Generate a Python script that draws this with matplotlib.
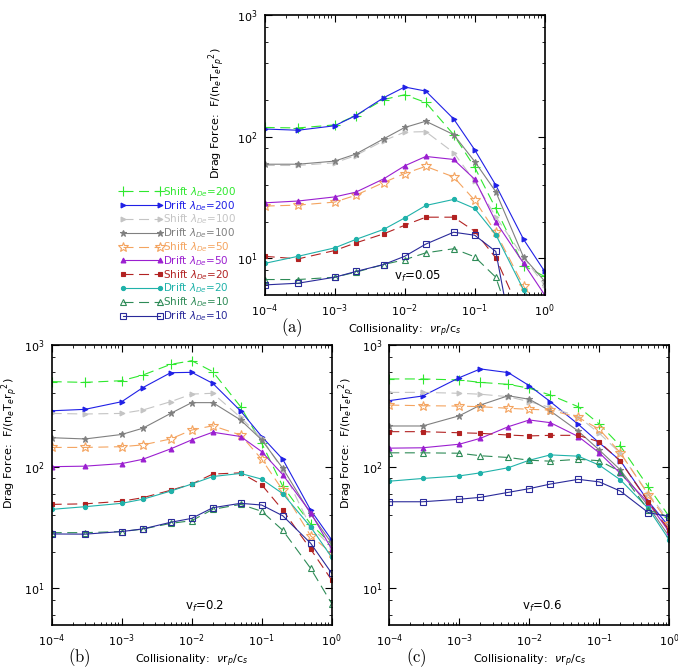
import matplotlib
matplotlib.use('Agg')
import matplotlib.pyplot as plt
from matplotlib.ticker import LogLocator, NullFormatter

# Collisionality values (x) shared by every curve
collisionality = [1e-4, 3e-4, 1e-3, 2e-3, 5e-3, 1e-2, 2e-2, 5e-2, 1e-1, 2e-1, 5e-1, 1.0]

series_labels = [r'Shift $\lambda_{De}$=200', r'Drift $\lambda_{De}$=200',
                 r'Shift $\lambda_{De}$=100', r'Drift $\lambda_{De}$=100',
                 r'Shift $\lambda_{De}$=50', r'Drift $\lambda_{De}$=50',
                 r'Shift $\lambda_{De}$=20', r'Drift $\lambda_{De}$=20',
                 r'Shift $\lambda_{De}$=10', r'Drift $\lambda_{De}$=10']

# Drag force, v_f = 0.05 (panel a)
drag_a = [
    [119, 118, 125, 149, 202, 221, 191, 104, 56, 25.7, 8.7, 7.1],
    [115.6, 113, 123, 149, 209, 256, 237, 140, 78, 40, 14.3, 7.8],
    [58, 58, 61, 70, 92.7, 109, 110, 74, 43, 22, 10.2, 6.0],
    [59.4, 59.4, 63, 72, 96, 119, 134, 104, 62.5, 35.3, 10.2, 6.5],
    [26.9, 27.4, 29, 33, 42, 49.8, 57, 46.7, 30, 16.4, 5.9, 3.5],
    [28.6, 29.6, 32, 35, 45, 57.6, 68.8, 65, 44.7, 20, 9.1, 5.0],
    [10.4, 9.9, 11.6, 13.4, 15.9, 18.7, 21.8, 21.8, 16.7, 10.1, 3.1, 2.0],
    [9.1, 10.4, 12.2, 14.3, 17.3, 21.5, 27.2, 30.5, 25.7, 15.7, 5.5, 3.0],
    [6.7, 6.7, 7.0, 7.7, 8.9, 9.75, 11.1, 12.0, 10.3, 7.0, 1.5, 1.0],
    [6.05, 6.25, 7.0, 7.8, 8.9, 10.4, 13.1, 16.4, 15.5, 11.4, 0.7, 0.5],
]

# Drag force, v_f = 0.2 (panel b)
drag_b = [
    [500, 493, 509, 566, 693, 743, 604, 311, 156, 69, 33.8, 23],
    [288, 296, 342, 446, 592, 596, 484, 287, 177, 115, 44, 25],
    [274, 271, 274, 292, 342, 395, 401, 254, 171, 94, 32, 22],
    [173, 169, 184, 207, 274, 336, 336, 242, 166, 97, 41, 23.5],
    [144, 144, 146, 151, 169, 200, 217, 182, 115, 64, 27, 19.5],
    [100, 101, 106, 115, 140, 166, 192, 177, 133, 86, 42, 21],
    [49, 49.5, 52, 55.6, 64, 72, 87, 89, 71, 44, 21, 11.7],
    [44.6, 46.9, 50, 54, 63, 72, 83, 88, 79, 60, 32, 18],
    [28.7, 28.7, 29.3, 30.7, 34.2, 36, 44.6, 49, 43, 30, 14.6, 7.5],
    [28, 27.9, 29.3, 30.8, 34.9, 37.6, 46, 50, 48.4, 39.5, 23.5, 13.3],
]

# Drag force, v_f = 0.6 (panel c)
drag_c = [
    [526, 526, 516, 493, 475, 441, 388, 311, 224, 148, 68.5, 38.8],
    [349, 381, 539, 636, 593, 463, 342, 223, 157, 112, 52, 32],
    [408, 408, 401, 394, 376, 342, 307, 258, 188, 129, 60, 36],
    [216, 216, 262, 321, 383, 358, 287, 196, 137, 94, 47.5, 26.6],
    [321, 317, 315, 311, 302, 296, 292, 254, 203, 130, 59, 34],
    [142, 143, 153, 171, 213, 242, 230, 177, 130, 88, 50.6, 29],
    [194, 194, 190, 188, 182, 179, 181, 181, 160, 111, 51.5, 30],
    [76, 80, 84, 89, 98, 113, 125, 122, 103, 78, 45.5, 25],
    [130, 130, 129, 123, 119, 113, 111, 115, 112, 91, 44, 38.8],
    [51.5, 51.5, 54, 56, 61.5, 66, 72, 78.7, 75, 63, 42, 38.8],
]

# Styles
colors = ['#2ee82e', '#2020e6', '#c4c4c4', '#808080', '#f4a460',
          '#9b1fd0', '#b22222', '#20b2aa', '#2e8b57', '#2a2a9a']
markers = ['+', '>', '>', '*', '*', '^', 's', 'o', '^', 's']
marker_sizes = [7, 3.5, 3.5, 5, 7, 3.5, 3.2, 3, 4.5, 4.5]
open_marker = [False, False, False, False, True, False, False, False, True, True]
dashed = [True, False, True, False, True, False, True, False, True, False]

plt.rcParams['font.family'] = 'DejaVu Sans'
plt.rcParams['mathtext.fontset'] = 'dejavusans'


def style_axes(ax, ylabel_x):
    ax.set_xscale('log')
    ax.set_yscale('log')
    ax.set_xlim(1e-4, 1)
    ax.set_ylim(5, 1000)
    ax.xaxis.set_minor_locator(LogLocator(base=10, subs=range(2, 10), numticks=20))
    ax.yaxis.set_minor_locator(LogLocator(base=10, subs=(2, 4, 6, 8), numticks=20))
    ax.xaxis.set_minor_formatter(NullFormatter())
    ax.yaxis.set_minor_formatter(NullFormatter())
    ax.tick_params(which='both', direction='in', top=True, right=True, labelsize=8)
    ax.tick_params(which='major', length=5, width=0.8, pad=5)
    ax.tick_params(which='minor', length=2.5, width=0.6)
    for s in ax.spines.values():
        s.set_linewidth(1.2)
    ax.set_xlabel(r'Collisionality:  $\nu$r$_p$/c$_s$', fontsize=8)
    ax.xaxis.set_label_coords(0.5, -0.1)
    ax.set_ylabel(r'Drag Force:  F/(n$_e$T$_e$r$_p$$^2$)', fontsize=8)
    ax.yaxis.set_label_coords(ylabel_x, 0.65)


def plot_panel(ax, drag, vf, tag, ylabel_x):
    for i, vals in enumerate(drag):
        ax.plot(collisionality, vals, color=colors[i], lw=0.8,
                linestyle=(0, (9, 5)) if dashed[i] else '-',
                marker=markers[i], ms=marker_sizes[i], mew=0.8,
                mfc='none' if open_marker[i] else colors[i], mec=colors[i],
                label=series_labels[i])
    style_axes(ax, ylabel_x)
    ax.text(0.545, 0.065, 'v$_f$=' + vf, transform=ax.transAxes,
            ha='center', va='center', fontsize=8.5)
    ax.text(0.098, -0.118, r'$\mathrm{(' + tag + ')}$', transform=ax.transAxes,
            ha='center', va='center', fontsize=12, math_fontfamily='cm')


fig = plt.figure(figsize=(6.78, 6.72), dpi=100)
W, H = 678, 672
ax_a = fig.add_axes([264.7 / W, 1 - 295 / H, 280 / W, 280 / H])
ax_b = fig.add_axes([51.7 / W, 1 - 625 / H, 280 / W, 280 / H])
ax_c = fig.add_axes([389.3 / W, 1 - 625 / H, 280 / W, 280 / H])

plot_panel(ax_a, drag_a, '0.05', 'a', -0.135)
plot_panel(ax_b, drag_b, '0.2', 'b', -0.112)
plot_panel(ax_c, drag_c, '0.6', 'c', -0.115)

handles, labels = ax_a.get_legend_handles_labels()
leg = fig.legend(handles, labels, loc='upper left', bbox_to_anchor=(120 / W, 1 - 185 / H),
                 frameon=False, fontsize=7.5, numpoints=2, handlelength=4.1,
                 handletextpad=0.05, labelspacing=0.0, borderpad=0, borderaxespad=0)
for t, c in zip(leg.get_texts(), colors):
    t.set_color(c)

fig.savefig('out.png', dpi=100)
plt.close()
